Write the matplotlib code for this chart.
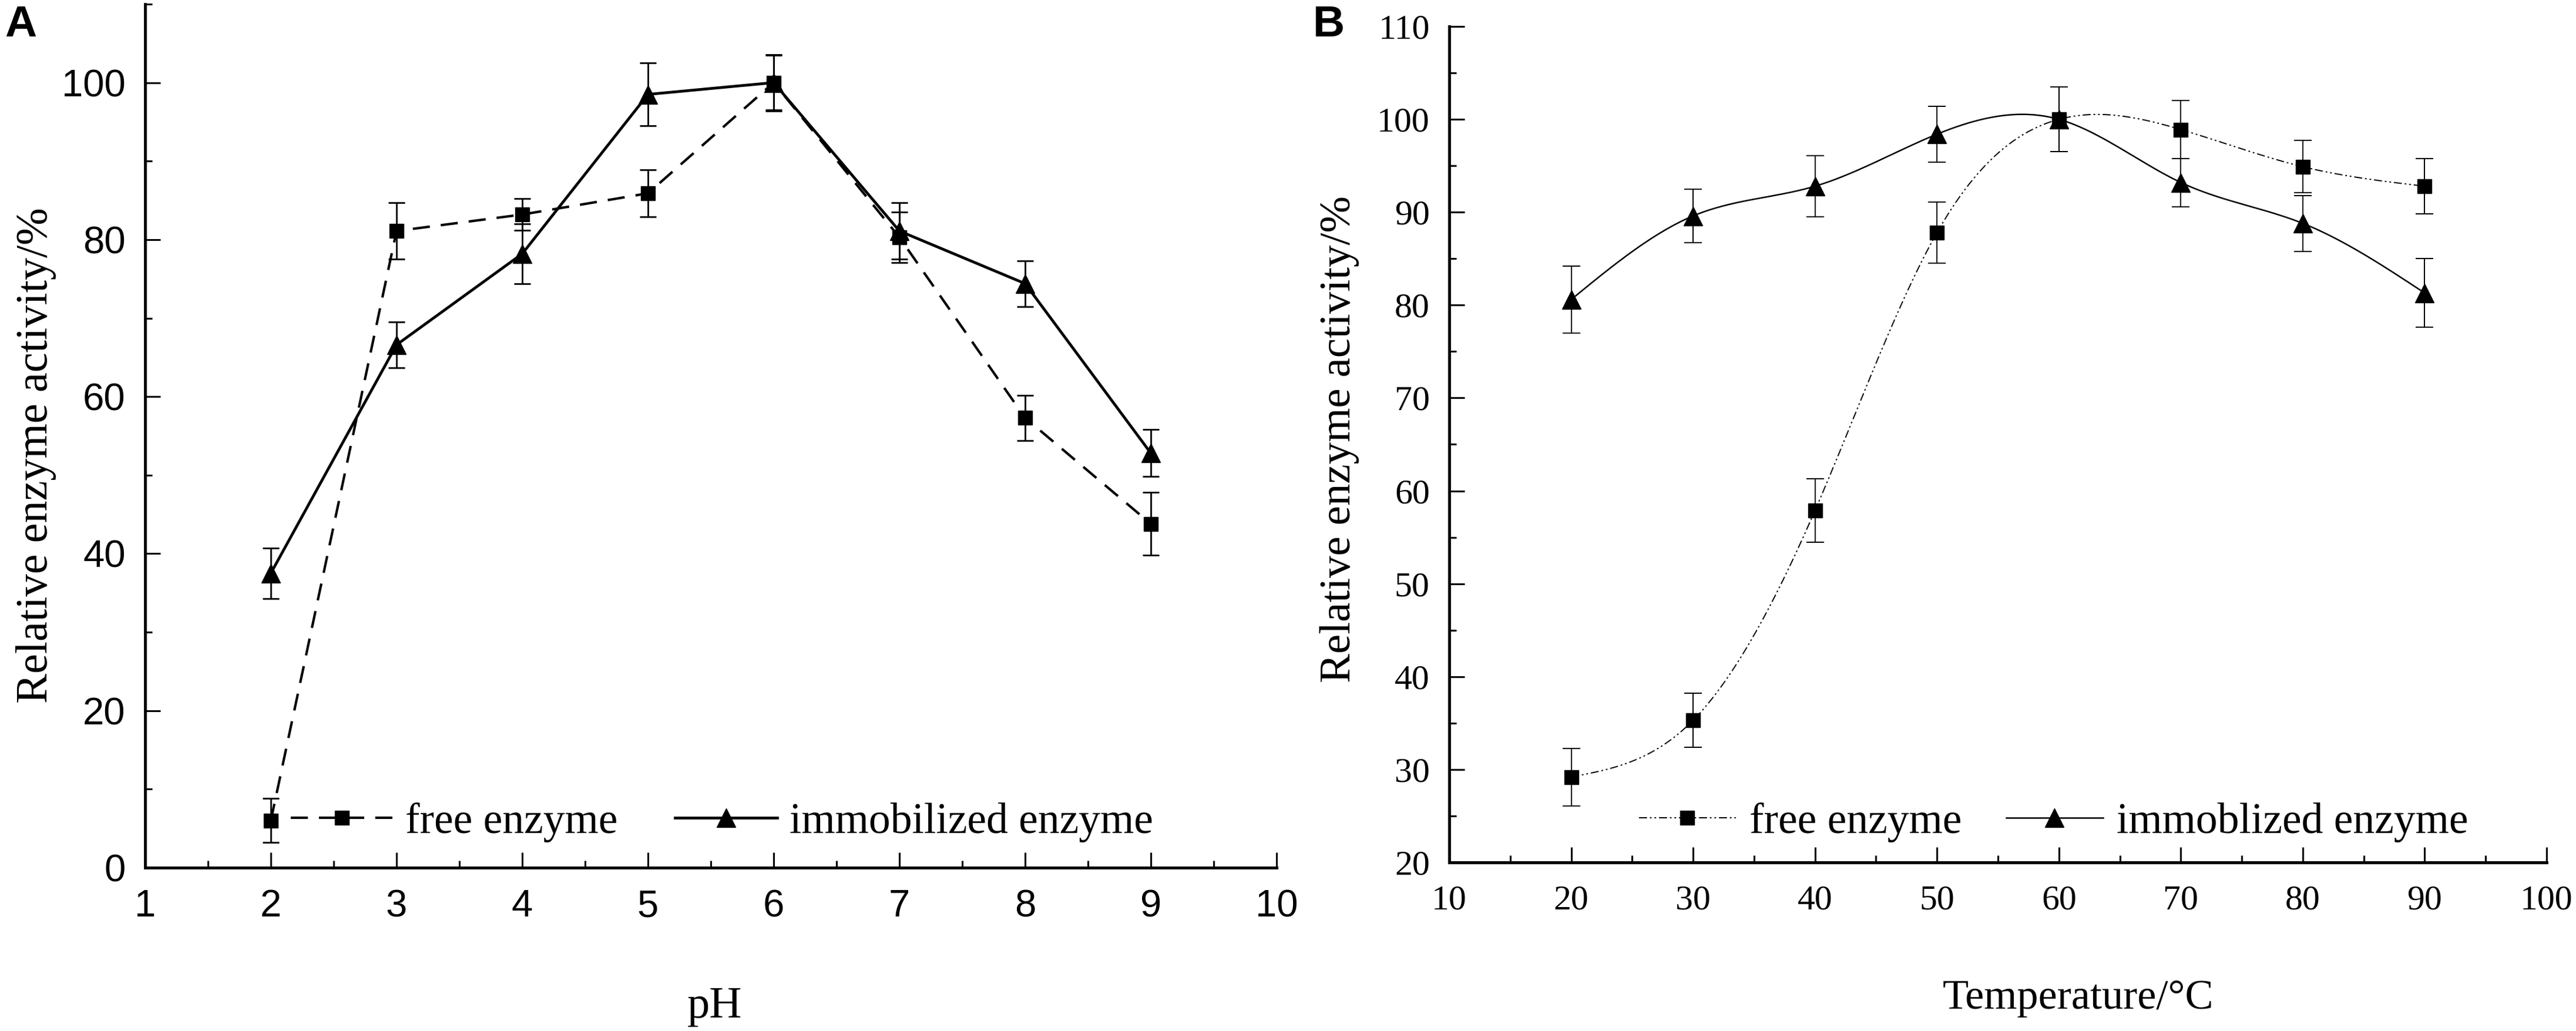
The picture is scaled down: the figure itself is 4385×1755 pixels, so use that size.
import numpy as np
import matplotlib
matplotlib.use("Agg")
import matplotlib.pyplot as plt
from matplotlib.ticker import MultipleLocator

# ---------------- data ----------------
ph = [2, 3, 4, 5, 6, 7, 8, 9]
ph_free = [6.0, 81.1, 83.2, 85.9, 100.0, 80.3, 57.3, 43.8]
ph_free_err = [2.8, 3.6, 2.0, 3.0, 3.6, 3.2, 2.9, 4.0]
ph_immo = [37.5, 66.6, 78.2, 98.5, 100.0, 81.1, 74.4, 52.8]
ph_immo_err = [3.2, 2.9, 3.8, 4.0, 3.5, 3.6, 2.9, 3.0]

temp = [20, 30, 40, 50, 60, 70, 80, 90]
t_free = [29.2, 35.3, 57.9, 87.8, 100.0, 98.9, 94.9, 92.8]
t_free_err = [3.1, 2.9, 3.4, 3.3, 3.5, 3.1, 2.8, 3.0]
t_immo = [80.6, 89.6, 92.8, 98.4, 100.0, 93.2, 88.8, 81.3]
t_immo_err = [3.6, 2.9, 3.3, 3.0, 3.5, 2.6, 3.0, 3.7]

labels_a = ["free enzyme", "immobilized enzyme"]
labels_b = ["free enzyme", "immoblized enzyme"]

SERIF = ["Liberation Serif", "DejaVu Serif"]
SANS = ["Liberation Sans", "DejaVu Sans"]


def spline(x, y, n=400):
    x = np.asarray(x, float)
    y = np.asarray(y, float)
    m = len(x)
    h = np.diff(x)
    A = np.zeros((m, m))
    r = np.zeros(m)
    A[0, 0] = 1
    A[-1, -1] = 1
    for i in range(1, m - 1):
        A[i, i - 1] = h[i - 1]
        A[i, i] = 2 * (h[i - 1] + h[i])
        A[i, i + 1] = h[i]
        r[i] = 3 * ((y[i + 1] - y[i]) / h[i] - (y[i] - y[i - 1]) / h[i - 1])
    c = np.linalg.solve(A, r)
    b = (y[1:] - y[:-1]) / h - h * (2 * c[:-1] + c[1:]) / 3
    d = (c[1:] - c[:-1]) / (3 * h)
    xs = np.linspace(x[0], x[-1], n)
    idx = np.clip(np.searchsorted(x, xs) - 1, 0, m - 2)
    dx = xs - x[idx]
    ys = y[idx] + b[idx] * dx + c[idx] * dx ** 2 + d[idx] * dx ** 3
    return xs, ys


W, H = 4385, 1755
fig = plt.figure(figsize=(W / 100, H / 100), dpi=100)


def px_axes(l, t, r, b):
    return fig.add_axes([l / W, 1 - b / H, (r - l) / W, (b - t) / H])


axA = px_axes(247, 7, 2173, 1477)
axB = px_axes(2467, 45, 4335, 1468)

for ax in (axA, axB):
    for s in ("top", "right"):
        ax.spines[s].set_visible(False)
    for s in ("left", "bottom"):
        ax.spines[s].set_linewidth(3.6)
    ax.tick_params(which="major", direction="in", length=19, width=2.2)
    ax.tick_params(which="minor", direction="in", length=8.5, width=2.2)

# ---------------- Panel A ----------------
axA.errorbar(ph, ph_free, yerr=ph_free_err, fmt="none", ecolor="black",
             elinewidth=2.0, capsize=10, capthick=2.0, zorder=2)
axA.errorbar(ph, ph_immo, yerr=ph_immo_err, fmt="none", ecolor="black",
             elinewidth=2.0, capsize=10, capthick=2.0, zorder=2)
axA.plot(ph, ph_free, color="black", lw=3.0, dashes=(7, 4.5), marker="s",
         ms=17, label=labels_a[0], zorder=3)
axA.plot(ph, ph_immo, color="black", lw=3.4, ls="-", marker="^",
         ms=23, label=labels_a[1], zorder=3)

axA.set_xlim(1, 10)
axA.set_ylim(0, 110)
axA.xaxis.set_major_locator(MultipleLocator(1))
axA.xaxis.set_minor_locator(MultipleLocator(0.5))
axA.yaxis.set_major_locator(MultipleLocator(20))
axA.yaxis.set_minor_locator(MultipleLocator(10))
axA.tick_params(axis="x", which="major", pad=26)
axA.tick_params(axis="y", which="major", pad=24)
for lab in axA.get_xticklabels() + axA.get_yticklabels():
    lab.set_fontfamily(SANS)
    lab.set_fontsize(47)

axA.set_xlabel("pH", fontsize=55, family=SERIF)
axA.xaxis.set_label_coords(0.5036, -0.1735)
axA.xaxis.label.set_va("baseline")
axA.set_ylabel("Relative enzyme activity/%", fontsize=55, family=SERIF)
axA.yaxis.set_label_coords(-0.0961, 0.4776)
axA.yaxis.label.set_va("center")

legA = axA.legend(loc="center left", bbox_to_anchor=(0.1288, 0.0524), ncol=2,
                  frameon=False, borderpad=0, borderaxespad=0, numpoints=1,
                  handlelength=2.36, handletextpad=0.29, columnspacing=1.33,
                  prop={"family": SERIF, "size": 53})

# ---------------- Panel B ----------------
axB.errorbar(temp, t_free, yerr=t_free_err, fmt="none", ecolor="black",
             elinewidth=1.4, capsize=11, capthick=1.4, zorder=2)
axB.errorbar(temp, t_immo, yerr=t_immo_err, fmt="none", ecolor="black",
             elinewidth=1.4, capsize=11, capthick=1.4, zorder=2)
xs, ys = spline(temp, t_free)
axB.plot(xs, ys, color="black", lw=1.4, dashes=(7, 2.5, 1.5, 2.5, 1.5, 2.5), zorder=2)
xs, ys = spline(temp, t_immo)
axB.plot(xs, ys, color="black", lw=1.8, ls="-", zorder=2)
axB.plot(temp, t_free, ls="none", marker="s", ms=17, color="black", zorder=3)
axB.plot(temp, t_immo, ls="none", marker="^", ms=23, color="black", zorder=3)
# legend proxies
axB.plot([], [], color="black", lw=1.4, dashes=(7, 2.5, 1.5, 2.5, 1.5, 2.5),
         marker="s", ms=17, label=labels_b[0])
axB.plot([], [], color="black", lw=1.8, ls="-", marker="^", ms=23, label=labels_b[1])

axB.set_xlim(10, 100)
axB.set_ylim(20, 110)
axB.xaxis.set_major_locator(MultipleLocator(10))
axB.xaxis.set_minor_locator(MultipleLocator(5))
axB.yaxis.set_major_locator(MultipleLocator(10))
axB.yaxis.set_minor_locator(MultipleLocator(5))
axB.tick_params(axis="x", which="major", pad=28)
axB.tick_params(axis="y", which="major", pad=24)
for lab in axB.get_xticklabels() + axB.get_yticklabels():
    lab.set_fontfamily(SERIF)
    lab.set_fontsize(43)

axB.set_xlabel("Temperature/\u00b0C", fontsize=52, family=SERIF)
axB.xaxis.set_label_coords(0.5733, -0.175)
axB.xaxis.label.set_va("baseline")
axB.set_ylabel("Relative enzyme activity/%", fontsize=54, family=SERIF)
axB.yaxis.set_label_coords(-0.1001, 0.506)
axB.yaxis.label.set_va("center")

legB = axB.legend(loc="center left", bbox_to_anchor=(0.1729, 0.0478), ncol=2,
                  frameon=False, borderpad=0, borderaxespad=0, numpoints=1,
                  handlelength=2.24, handletextpad=0.31, columnspacing=1.03,
                  prop={"family": SERIF, "size": 53})

# panel letters
fig.text(8 / W, 1 - 62 / H, "A", fontsize=54, fontweight="bold",
         family=SANS, ha="left", va="baseline")
fig.text(2235 / W, 1 - 62 / H, "B", fontsize=54, fontweight="bold",
         family=SANS, ha="left", va="baseline")

fig.savefig("out.png", dpi=100)
